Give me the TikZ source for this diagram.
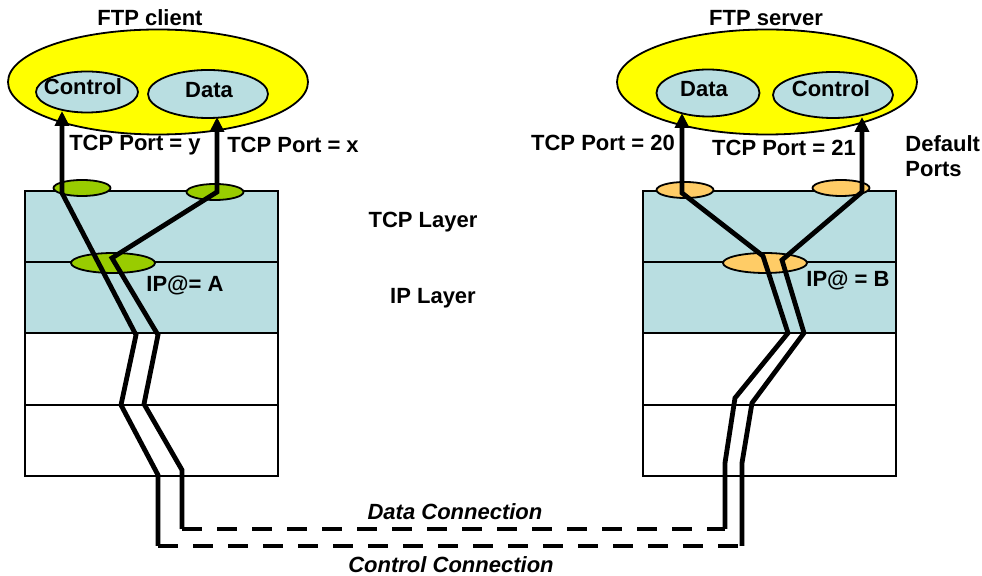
\documentclass[tikz,border=0pt]{standalone}
\usepackage{fontspec}
\setmainfont{Liberation Sans}
\usetikzlibrary{shapes.geometric,arrows.meta}
\definecolor{hostyellow}{RGB}{255,255,0}
\definecolor{layerblue}{RGB}{185,222,225}
\definecolor{portgreen}{RGB}{153,204,0}
\definecolor{portorange}{RGB}{255,204,102}
\begin{document}
\begin{tikzpicture}[x=0.5pt,y=-0.5pt,
  font=\fontsize{11}{12.5}\selectfont\bfseries,
  ell/.style={ellipse,draw=black,line width=0.9pt,inner sep=0pt},
  host/.style={ell,fill=hostyellow,minimum width=150pt,minimum height=52.5pt},
  app/.style={ell,fill=layerblue},
  port/.style={ell,minimum width=28.5pt,minimum height=8pt},
  ipell/.style={ell,minimum width=42pt,minimum height=10pt},
  layer/.style={rectangle,draw=black,line width=1pt,minimum width=126.5pt,minimum height=35.625pt,inner sep=0pt},
  conn/.style={line width=2.4pt,line join=miter},
  tip/.tip={Triangle[length=7.5pt,width=7pt]},
  dashconn/.style={line width=2.4pt,dash pattern=on 10pt off 7.5pt},
  txt/.style={inner sep=0pt}
]
\useasboundingbox (0,0) rectangle (982,576);

% ---------- hosts ----------
\node[host] (cli) at (158,82) {};
\node[app,minimum width=51pt,minimum height=20.5pt] (cctl) at (87,92) {};
\node[app,minimum width=60pt,minimum height=24pt] (cdat) at (208,94) {};
\node[txt] (cctlt) at (83,87) {Control};
\node[txt] (cdatt) at (209,90) {Data};
\node[txt] (clit) at (150,18) {FTP client};

\node[host] (srv) at (767,82) {};
\node[app,minimum width=51.5pt,minimum height=23.5pt] (sdat) at (708,93) {};
\node[app,minimum width=60pt,minimum height=23pt] (sctl) at (833,95) {};
\node[txt] (sdatt) at (704,89) {Data};
\node[txt] (sctlt) at (831,89) {Control};
\node[txt] (srvt) at (766,18) {FTP server};

% ---------- stacks ----------
\node[layer,fill=layerblue] (l1) at (151.5,226.6) {};
\node[layer,fill=layerblue] (l2) at (151.5,262.2+35.6) {};
\node[layer,fill=white] (l3) at (151.5,333.5+35.6) {};
\node[layer,fill=white] (l4) at (151.5,404.8+35.6) {};
\node[layer,fill=layerblue] (r1) at (769.5,226.6) {};
\node[layer,fill=layerblue] (r2) at (769.5,262.2+35.6) {};
\node[layer,fill=white] (r3) at (769.5,333.5+35.6) {};
\node[layer,fill=white] (r4) at (769.5,404.8+35.6) {};

\node[port,fill=portgreen] (cpy) at (82,188) {};
\node[port,fill=portgreen] (cpx) at (215,192) {};
\node[ipell,fill=portgreen] (cip) at (113,263) {};
\node[port,fill=portorange] (sp20) at (685,190) {};
\node[port,fill=portorange] (sp21) at (841,188) {};
\node[ipell,fill=portorange] (sip) at (765,263) {};

% ---------- path points ----------
% control connection
\coordinate (lcT) at (62,111);
\coordinate (lc0) at (62,193);
\coordinate (lc1) at (136,335);
\coordinate (lc2) at (121,405);
\coordinate (lc3) at (158,475);
\coordinate (lc4) at (158,546);
\coordinate (rc4) at (742,546);
\coordinate (rc3) at (742,463);
\coordinate (rc2) at (752,403);
\coordinate (rc1) at (804,333);
\coordinate (rcb) at (782,260);
\coordinate (rc0) at (862,192);
\coordinate (rcT) at (862,117);
% data connection
\coordinate (ldT) at (217,117);
\coordinate (ld0) at (217,192);
\coordinate (ld1) at (112,258);
\coordinate (ld2) at (158,335);
\coordinate (ld3) at (144,404);
\coordinate (ld4) at (182,470);
\coordinate (ld5) at (182,529);
\coordinate (rd5) at (725,529);
\coordinate (rd4) at (725,463);
\coordinate (rd3) at (735,398);
\coordinate (rd2) at (788,333);
\coordinate (rd1) at (763,256);
\coordinate (rd0) at (682,193);
\coordinate (rdT) at (682,113);

\draw[conn,tip-] (lcT) -- (lc0) -- (lc1) -- (lc2) -- (lc3) -- (lc4);
\draw[dashconn] (lc4) -- (rc4);
\draw[conn,-tip] (rc4) -- (rc3) -- (rc2) -- (rc1) -- (rcb) -- (rc0) -- (rcT);

\draw[conn,tip-] (ldT) -- (ld0) -- (ld1) -- (ld2) -- (ld3) -- (ld4) -- (ld5);
\draw[dashconn] (ld5) -- (rd5);
\draw[conn,-tip] (rd5) -- (rd4) -- (rd3) -- (rd2) -- (rd1) -- (rd0) -- (rdT);

% ---------- labels ----------
\node[txt] (py) at (135,145) {TCP Port = y};
\node[txt] (px) at (293,145) {TCP Port = x};
\node[txt] (p20) at (603,143) {TCP Port = 20};
\node[txt] (p21) at (784,148) {TCP Port = 21};
\node[txt,anchor=west,align=left] (dp) at (905,156) {Default\\Ports};
\node[txt] (tcpl) at (423,222) {TCP Layer};
\node[txt] (ipl) at (433,298) {IP Layer};
\node[txt] (ipa) at (185,285) {IP@= A};
\node[txt] (ipb) at (848,280) {IP@ = B};
\node[txt,font=\fontsize{11}{12.5}\selectfont\bfseries\itshape] (dconn) at (455,512) {Data Connection};
\node[txt,font=\fontsize{11}{12.5}\selectfont\bfseries\itshape] (cconn) at (451,565) {Control Connection};
\end{tikzpicture}
\end{document}
